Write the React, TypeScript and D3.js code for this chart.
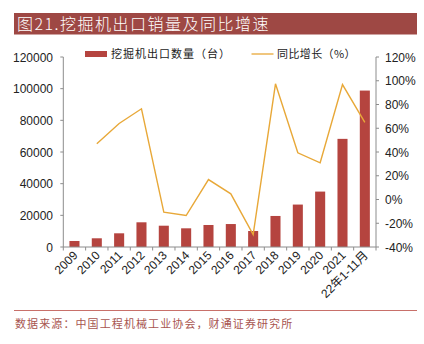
import React from "react";
import * as d3 from "d3";

const categories = ["2009","2010","2011","2012","2013","2014","2015","2016","2017","2018","2019","2020","2021","22年1-11月"];
const exportUnits = [3800,5500,8650,15600,13450,11800,13900,14500,10100,19600,26800,35000,68300,98800];
const yoyGrowth: (number|null)[] = [null,46.9,64,76.4,-10.7,-13.5,16.8,4.8,-29.5,97.4,39.3,30.9,96.8,65];
const leftTicks = [0,20000,40000,60000,80000,100000,120000];
const rightTicks = [-40,-20,0,20,40,60,80,100,120];

const W = 424, H = 344;
const x0 = 63.3, x1 = 376, yTop = 57, yBot = 247;
const barColor = "#B5443F";
const lineColor = "#E8A838";
const axisColor = "#8C8C8C";
const labelFont = "'Liberation Sans', Arial, sans-serif";
const cjkFont = "'Noto Sans CJK SC', sans-serif";

export default function App() {
  const x = d3.scaleBand<string>().domain(categories).range([x0, x1]).paddingInner(0.55).paddingOuter(0.275);
  const band = d3.scaleBand<string>().domain(categories).range([x0, x1]);
  const yL = d3.scaleLinear().domain([0, 120000]).range([yBot, yTop]);
  const yR = d3.scaleLinear().domain([-40, 120]).range([yBot, yTop]);
  const line = d3.line<[string, number | null]>()
    .defined(d => d[1] !== null)
    .x(d => (band(d[0]) as number) + band.bandwidth() / 2)
    .y(d => yR(d[1] as number));
  const pts = categories.map((c, i) => [c, yoyGrowth[i]] as [string, number | null]);
  const boundaries = categories.map(c => band(c) as number).concat([x1]);

  return (
    <svg width={W} height={H} style={{ position: "absolute", left: 0, top: 0 }}>
      <rect x={0} y={0} width={W} height={H} fill="#fff" />
      <rect x={14} y={13} width={403} height={21.5} fill="#9E4844" />
      <text x={17} y={30} fill="#fff" fontSize={16} letterSpacing={1.5} fontWeight={300} fontFamily={cjkFont}>图21.挖掘机出口销量及同比增速</text>

      {/* legend */}
      <rect x={85} y={51} width={22} height={6} fill={barColor} />
      <text x={111} y={58} fontSize={11} letterSpacing={1} fontFamily={cjkFont} fill="#222">挖掘机出口数量（台）</text>
      <line x1={251.5} x2={273.5} y1={54} y2={54} stroke={lineColor} strokeWidth={1.3} />
      <text x={277} y={58} fontSize={11} letterSpacing={0.4} fontFamily={cjkFont} fill="#222">同比增长（%）</text>

      {/* bars */}
      {categories.map((c, i) => (
        <rect key={c} x={x(c)} y={yL(exportUnits[i])} width={x.bandwidth()} height={yBot - yL(exportUnits[i])} fill={barColor} />
      ))}
      <path d={line(pts) || ""} fill="none" stroke={lineColor} strokeWidth={1.4} />

      {/* left axis */}
      <line x1={x0} x2={x0} y1={yTop} y2={yBot} stroke={axisColor} />
      {leftTicks.map(t => (
        <g key={t}>
          <line x1={x0 - 3} x2={x0} y1={yL(t)} y2={yL(t)} stroke={axisColor} />
          <text x={53} y={yL(t) + 4.5} textAnchor="end" fontSize={12} fontFamily={labelFont} fill="#222">{t}</text>
        </g>
      ))}
      {/* right axis */}
      <line x1={x1} x2={x1} y1={yTop} y2={yBot} stroke={axisColor} />
      {rightTicks.map(t => (
        <g key={t}>
          <line x1={x1} x2={x1 + 3} y1={yR(t)} y2={yR(t)} stroke={axisColor} />
          <text x={385} y={yR(t) + 4.5} fontSize={12} fontFamily={labelFont} fill="#222">{t + "%"}</text>
        </g>
      ))}
      {/* x axis */}
      <line x1={x0} x2={x1} y1={yBot} y2={yBot} stroke={axisColor} />
      {boundaries.map((b, i) => (
        <line key={i} x1={b} x2={b} y1={yBot} y2={yBot + 3.5} stroke={axisColor} />
      ))}
      {categories.map(c => {
        const cx = (band(c) as number) + band.bandwidth() / 2 + 4;
        const cy = 256;
        return (
          <text key={c} x={cx} y={cy} textAnchor="end" fontSize={12} fontFamily={c.length > 4 ? `${labelFont}, ${cjkFont}` : labelFont} fill="#222"
            transform={`rotate(-45 ${cx} ${cy})`}>{c}</text>
        );
      })}

      <line x1={14} x2={417} y1={310.5} y2={310.5} stroke="#C8706A" strokeWidth={1} />
      <text x={15} y={328} fontSize={11} letterSpacing={1.1} fontFamily={cjkFont} fill="#A85550">数据来源：中国工程机械工业协会，财通证券研究所</text>
    </svg>
  );
}
